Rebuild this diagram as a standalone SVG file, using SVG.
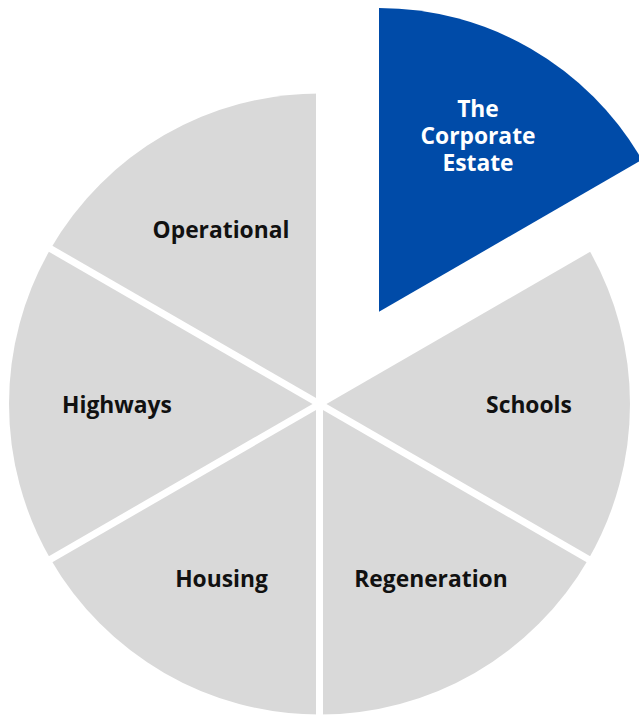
<svg xmlns="http://www.w3.org/2000/svg" width="639" height="715" viewBox="0 0 639 715">
<style>
.slice{fill:#D9D9D9}
.gap{stroke:#FFFFFF;stroke-width:7;fill:none}
.lbl{font-family:"Open Sans","Noto Sans",sans-serif;font-weight:700;font-size:22.8px;text-anchor:middle;fill:#111111}
.lblw{font-family:"Open Sans","Noto Sans",sans-serif;font-weight:700;font-size:22.8px;text-anchor:middle;fill:#FFFFFF}
</style>
<rect width="639" height="715" fill="#FFFFFF"/>
<g id="schools"><path class="slice" d="M319.5,404 L588.4,248.75 A310.5,310.5 0 0 1 588.4,559.25 Z"/><text class="lbl" x="529" y="413">Schools</text></g>
<g id="regeneration"><path class="slice" d="M319.5,404 L588.4,559.25 A310.5,310.5 0 0 1 319.5,714.5 Z"/><text class="lbl" x="431" y="587">Regeneration</text></g>
<g id="housing"><path class="slice" d="M319.5,404 L319.5,714.5 A310.5,310.5 0 0 1 50.6,559.25 Z"/><text class="lbl" x="221.5" y="587">Housing</text></g>
<g id="highways"><path class="slice" d="M319.5,404 L50.6,559.25 A310.5,310.5 0 0 1 50.6,248.75 Z"/><text class="lbl" x="117" y="413">Highways</text></g>
<g id="operational"><path class="slice" d="M319.5,404 L50.6,248.75 A310.5,310.5 0 0 1 319.5,93.5 Z"/><text class="lbl" x="221" y="238">Operational</text></g>
<g id="connectors">
<line class="gap" x1="319.5" y1="404" x2="319.5" y2="90"/>
<line class="gap" x1="319.5" y1="404" x2="319.5" y2="718"/>
<line class="gap" x1="319.5" y1="404" x2="591" y2="247.25"/>
<line class="gap" x1="319.5" y1="404" x2="591" y2="560.75"/>
<line class="gap" x1="319.5" y1="404" x2="48" y2="560.75"/>
<line class="gap" x1="319.5" y1="404" x2="48" y2="247.25"/>
</g>
<g id="corporate-estate"><path fill="#004BA8" d="M379,311.7 L379,8 A303.7,303.7 0 0 1 642,159.85 Z"/>
<text class="lblw" x="478" y="117">The</text>
<text class="lblw" x="478" y="144">Corporate</text>
<text class="lblw" x="478" y="171">Estate</text></g>
</svg>
